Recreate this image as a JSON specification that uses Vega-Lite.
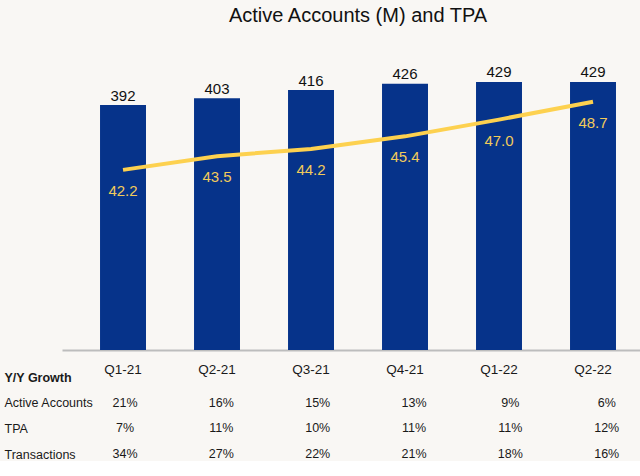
{
  "$schema": "https://vega.github.io/schema/vega-lite/v6.json",
  "background": "#f9f7f4",
  "padding": {"left": 4, "top": 6, "right": 0, "bottom": 0},
  "bounds": "flush",
  "spacing": 27,
  "config": {
    "view": {"stroke": null},
    "font": "Liberation Sans",
    "text": {"font": "Liberation Sans"},
    "axis": {"labelFont": "Liberation Sans", "titleFont": "Liberation Sans"}
  },
  "datasets": {
    "main": [
      {"quarter": "Q1-21", "accounts": 392, "tpa": 42.2},
      {"quarter": "Q2-21", "accounts": 403, "tpa": 43.5},
      {"quarter": "Q3-21", "accounts": 416, "tpa": 44.2},
      {"quarter": "Q4-21", "accounts": 426, "tpa": 45.4},
      {"quarter": "Q1-22", "accounts": 429, "tpa": 47.0},
      {"quarter": "Q2-22", "accounts": 429, "tpa": 48.7}
    ],
    "growth": [
      {"quarter": "Q1-21", "metric": "Active Accounts", "value": "21%"},
      {"quarter": "Q2-21", "metric": "Active Accounts", "value": "16%"},
      {"quarter": "Q3-21", "metric": "Active Accounts", "value": "15%"},
      {"quarter": "Q4-21", "metric": "Active Accounts", "value": "13%"},
      {"quarter": "Q1-22", "metric": "Active Accounts", "value": "9%"},
      {"quarter": "Q2-22", "metric": "Active Accounts", "value": "6%"},
      {"quarter": "Q1-21", "metric": "TPA", "value": "7%"},
      {"quarter": "Q2-21", "metric": "TPA", "value": "11%"},
      {"quarter": "Q3-21", "metric": "TPA", "value": "10%"},
      {"quarter": "Q4-21", "metric": "TPA", "value": "11%"},
      {"quarter": "Q1-22", "metric": "TPA", "value": "11%"},
      {"quarter": "Q2-22", "metric": "TPA", "value": "12%"},
      {"quarter": "Q1-21", "metric": "Transactions", "value": "34%"},
      {"quarter": "Q2-21", "metric": "Transactions", "value": "27%"},
      {"quarter": "Q3-21", "metric": "Transactions", "value": "22%"},
      {"quarter": "Q4-21", "metric": "Transactions", "value": "21%"},
      {"quarter": "Q1-22", "metric": "Transactions", "value": "18%"},
      {"quarter": "Q2-22", "metric": "Transactions", "value": "16%"}
    ]
  },
  "vconcat": [
    {
      "title": {"text": "Active Accounts (M) and TPA", "fontSize": 20, "fontWeight": "normal", "color": "#111111", "anchor": "middle", "dx": 7, "offset": 14},
      "width": 578,
      "height": 310,
      "data": {"name": "main"},
      "encoding": {
        "x": {
          "field": "quarter", "type": "nominal", "sort": null,
          "scale": {"paddingInner": 0.511, "paddingOuter": 0.33, "align": 0.613},
          "axis": {"title": null, "labelAngle": 0, "ticks": false, "labelPadding": 12, "labelFontSize": 13.5, "labelColor": "#1a1a1a", "domainColor": "#bdbdbd", "domainWidth": 2}
        }
      },
      "layer": [
        {
          "mark": {"type": "bar", "color": "#06338a"},
          "encoding": {
            "y": {"field": "accounts", "type": "quantitative", "scale": {"domain": [0, 496]}, "axis": null}
          }
        },
        {
          "mark": {"type": "text", "baseline": "alphabetic", "dy": -4.5, "fontSize": 15, "color": "#111111"},
          "encoding": {
            "y": {"field": "accounts", "type": "quantitative", "scale": {"domain": [0, 496]}, "axis": null},
            "text": {"field": "accounts", "type": "quantitative"}
          }
        },
        {
          "layer": [
            {
              "mark": {"type": "line", "color": "#fdd14f", "strokeWidth": 4},
              "encoding": {
                "y": {"field": "tpa", "type": "quantitative", "scale": {"domain": [25, 54.6]}, "axis": null}
              }
            },
            {
              "mark": {"type": "text", "baseline": "middle", "dy": 21, "fontSize": 15, "color": "#f2cb5a"},
              "encoding": {
                "y": {"field": "tpa", "type": "quantitative", "scale": {"domain": [25, 54.6]}, "axis": null},
                "text": {"field": "tpa", "type": "quantitative", "format": ".1f"}
              }
            }
          ]
        }
      ],
      "resolve": {"scale": {"y": "independent"}}
    },
    {
      "width": 578,
      "height": 77,
      "data": {"name": "growth"},
      "mark": {"type": "text", "fontSize": 12.5, "color": "#1a1a1a", "dx": 4, "baseline": "middle"},
      "encoding": {
        "x": {
          "field": "quarter", "type": "nominal",
          "sort": ["Q1-21", "Q2-21", "Q3-21", "Q4-21", "Q1-22", "Q2-22"],
          "scale": {"domain": ["Q1-21", "Q2-21", "Q3-21", "Q4-21", "Q1-22", "Q2-22"], "paddingInner": 0.511, "paddingOuter": 0.33, "align": 0.613},
          "axis": null
        },
        "y": {
          "field": "metric", "type": "ordinal",
          "scale": {"type": "point", "domain": ["Y/Y Growth", "Active Accounts", "TPA", "Transactions"], "padding": 0},
          "axis": {
            "title": null, "domain": false, "ticks": false, "labelAlign": "left", "labelPadding": 58,
            "labelFontSize": 12.5, "labelColor": "#1a1a1a",
            "labelFontWeight": {"condition": {"test": "datum.value === 'Y/Y Growth'", "value": "bold"}, "value": "normal"}
          }
        },
        "text": {"field": "value", "type": "nominal"}
      }
    }
  ]
}
